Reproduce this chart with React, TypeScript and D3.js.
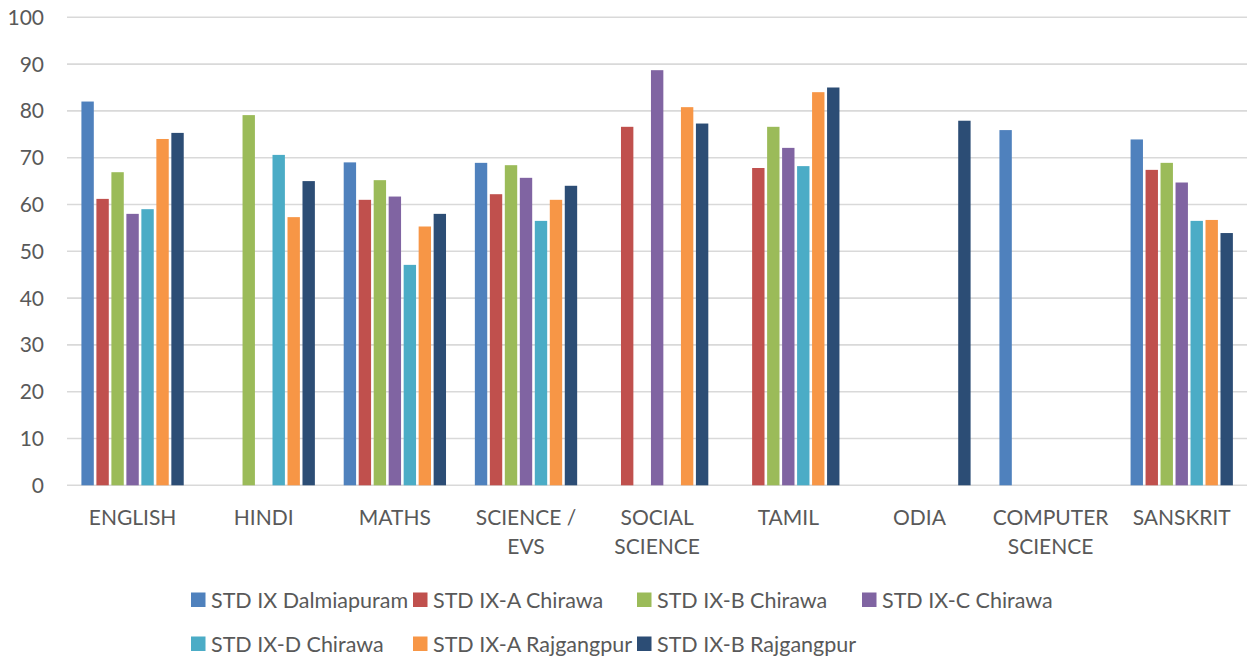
import React from "react";
import * as d3 from "d3";

const categories = ["ENGLISH", "HINDI", "MATHS", "SCIENCE / EVS", "SOCIAL SCIENCE", "TAMIL", "ODIA", "COMPUTER SCIENCE", "SANSKRIT"];
const categoryLines = [["ENGLISH"], ["HINDI"], ["MATHS"], ["SCIENCE /", "EVS"], ["SOCIAL", "SCIENCE"], ["TAMIL"], ["ODIA"], ["COMPUTER", "SCIENCE"], ["SANSKRIT"]];

const seriesNames = [
  "STD IX Dalmiapuram",
  "STD IX-A Chirawa",
  "STD IX-B Chirawa",
  "STD IX-C Chirawa",
  "STD IX-D Chirawa",
  "STD IX-A Rajgangpur",
  "STD IX-B Rajgangpur",
];
const seriesColors = ["#4f81bd", "#c0504d", "#9bbb59", "#8064a2", "#4bacc6", "#f79646", "#2c4d75"];

const dalmiapuram = [82.0, null, 69.0, 68.9, null, null, null, 75.9, 73.9];
const chirawaA = [61.2, null, 61.0, 62.2, 76.6, 67.8, null, null, 67.4];
const chirawaB = [66.9, 79.1, 65.2, 68.4, null, 76.6, null, null, 68.9];
const chirawaC = [58.0, null, 61.7, 65.7, 88.7, 72.1, null, null, 64.7];
const chirawaD = [59.0, 70.6, 47.1, 56.5, null, 68.2, null, null, 56.5];
const rajgangpurA = [74.0, 57.3, 55.3, 61.0, 80.8, 84.0, null, null, 56.7];
const rajgangpurB = [75.3, 65.0, 58.0, 64.0, 77.3, 85.0, 77.9, null, 53.9];

const seriesValues = [dalmiapuram, chirawaA, chirawaB, chirawaC, chirawaD, rajgangpurA, rajgangpurB];
const yTicks = [0, 10, 20, 30, 40, 50, 60, 70, 80, 90, 100];

const FONT = "Lato, 'Open Sans', sans-serif";

export default function App() {
  const W = 1247, H = 658;
  const x = d3.scaleBand<string>().domain(categories).range([67, 1247.3]).padding(0);
  const bw = x.bandwidth();
  const inner = d3.scaleBand<string>().domain(seriesNames).range([bw * 0.1, bw * 0.9]).padding(0);
  const y = d3.scaleLinear().domain([0, 100]).range([485.3, 17.3]);

  const legendCols = [191, 413, 637, 862];
  const legendRows = [600, 644];

  return (
    <svg width={W} height={H} style={{ position: "absolute", left: 0, top: 0, display: "block", background: "#fff" }}>
      {yTicks.map((t) => (
        <g key={t}>
          <line x1={67} x2={1247} y1={y(t)} y2={y(t)} stroke="#d9d9d9" strokeWidth={1.6} />
          <text x={44} y={y(t)} dy="0.36em" textAnchor="end" fontFamily={FONT} fontSize={21} fill="#595959">
            {t}
          </text>
        </g>
      ))}
      {seriesValues.map((vals, si) =>
        vals.map((v, ci) =>
          v == null ? null : (
            <rect
              key={`${si}-${ci}`}
              x={(x(categories[ci]) as number) + (inner(seriesNames[si]) as number) + 1.3}
              y={y(v)}
              width={inner.bandwidth() - 2.6}
              height={y(0) - y(v)}
              fill={seriesColors[si]}
            />
          )
        )
      )}
      {categoryLines.map((lines, ci) => (
        <text
          key={ci}
          x={(x(categories[ci]) as number) + bw / 2}
          y={525}
          textAnchor="middle"
          fontFamily={FONT}
          fontSize={21}
          fill="#595959"
        >
          {lines.map((l, li) => (
            <tspan key={li} x={(x(categories[ci]) as number) + bw / 2} dy={li === 0 ? 0 : 29}>
              {l}
            </tspan>
          ))}
        </text>
      ))}
      {seriesNames.map((name, i) => {
        const col = i < 4 ? i : i - 4;
        const row = i < 4 ? 0 : 1;
        const lx = legendCols[col];
        const ly = legendRows[row];
        return (
          <g key={name}>
            <rect x={lx} y={ly - 7.5} width={14.5} height={14.5} fill={seriesColors[i]} />
            <text x={lx + 20} y={ly} dy="0.36em" fontFamily={FONT} fontSize={21.5} fill="#595959">
              {name}
            </text>
          </g>
        );
      })}
    </svg>
  );
}
